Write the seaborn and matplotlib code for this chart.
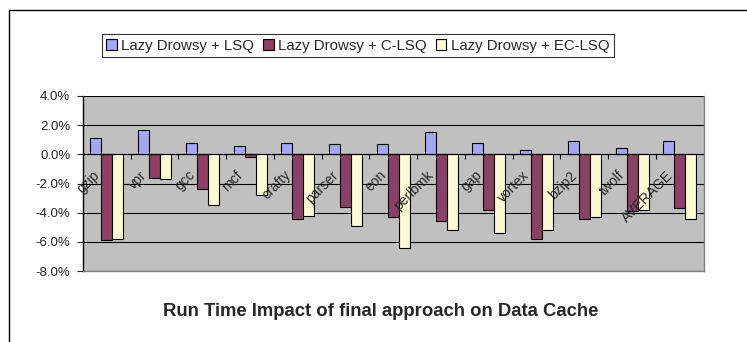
import numpy as np
import pandas as pd
import seaborn as sns
import matplotlib.pyplot as plt
from matplotlib.patches import Rectangle
from matplotlib.ticker import FuncFormatter

# Data (percent)
benchmarks = ["gzip", "vpr", "gcc", "mcf", "crafty", "parser", "eon", "perlbmk",
              "gap", "vortex", "bzip2", "twolf", "AVERAGE"]
lsq = [1.1, 1.7, 0.8, 0.6, 0.8, 0.7, 0.7, 1.5, 0.8, 0.3, 0.9, 0.4, 0.9]
c_lsq = [-5.9, -1.6, -2.4, -0.2, -4.4, -3.6, -4.3, -4.6, -3.8, -5.8, -4.4, -3.9, -3.7]
ec_lsq = [-5.8, -1.7, -3.5, -2.8, -4.2, -4.9, -6.4, -5.2, -5.4, -5.2, -4.3, -3.8, -4.4]
series = ["Lazy Drowsy + LSQ", "Lazy Drowsy + C-LSQ", "Lazy Drowsy + EC-LSQ"]
colors = ["#9999FF", "#993366", "#FFFFCC"]

df = pd.DataFrame({
    "bench": benchmarks * 3,
    "value": lsq + c_lsq + ec_lsq,
    "series": [s for s in series for _ in benchmarks],
})

sns.set_style("white")
plt.rcParams["font.family"] = ["Liberation Sans", "DejaVu Sans"]

fig = plt.figure(figsize=(7.47, 3.42), dpi=100)
ax = fig.add_axes([0.111, 0.2076, 0.831, 0.5117])
ax.set_facecolor("#C0C0C0")

sns.barplot(data=df, x="bench", y="value", hue="series", palette=colors,
            width=0.69, edgecolor="black", linewidth=0.8, ax=ax, legend=True)

ax.set_ylim(-8, 4)
ax.set_xlim(-0.5, len(benchmarks) - 0.5)
ax.set_yticks(np.arange(-8, 4.1, 2))
ax.yaxis.set_major_formatter(FuncFormatter(lambda v, p: f"{v:.1f}%"))
ax.grid(axis="y", color="black", linewidth=0.8)
ax.set_axisbelow(True)
ax.axhline(0, color="black", linewidth=0.8, zorder=1)
ax.set_xlabel("")
ax.set_ylabel("")
ax.tick_params(axis="y", labelsize=9.5, length=4, width=0.8, direction="out", left=True, pad=5)
ax.tick_params(axis="x", length=0)
ax.set_xticks(range(len(benchmarks)))
ax.set_xticklabels([])

# small tick marks at category boundaries on the zero line
bounds = np.arange(len(benchmarks) + 1) - 0.5
ax.vlines(bounds, -0.35, 0, color="black", linewidth=0.8, zorder=1)

# category labels sit just under the zero line, rotated
for i, name in enumerate(benchmarks):
    ax.text(i - 0.3, -0.95, name, rotation=45, ha="right", va="top",
            fontsize=10, rotation_mode="anchor", zorder=5)

ax.spines["top"].set_visible(False)
ax.spines["left"].set_color("black")
ax.spines["right"].set_color("#808080")
ax.spines["bottom"].set_color("#808080")
for s in ax.spines.values():
    s.set_linewidth(1)

handles, labels = ax.get_legend_handles_labels()
ax.get_legend().remove()
leg = fig.legend(handles, labels, loc="center", bbox_to_anchor=(0.479, 0.866), ncol=3,
                 fontsize=10.8, frameon=True, fancybox=False, edgecolor="black",
                 handlelength=0.7, handleheight=0.7, handletextpad=0.3,
                 columnspacing=0.6, borderpad=0.3)
leg.get_frame().set_linewidth(0.8)

fig.text(0.51, 0.088, "Run Time Impact of final approach on Data Cache",
         ha="center", va="center", fontsize=13.3, fontweight="bold")

# outer chart frame (cut off at right/bottom)
fig.patches.append(Rectangle((0.012, -0.1), 1.1, 0.1 + 0.9708, transform=fig.transFigure,
                             fill=False, edgecolor="black", linewidth=1))

fig.savefig("out.png", dpi=100)
